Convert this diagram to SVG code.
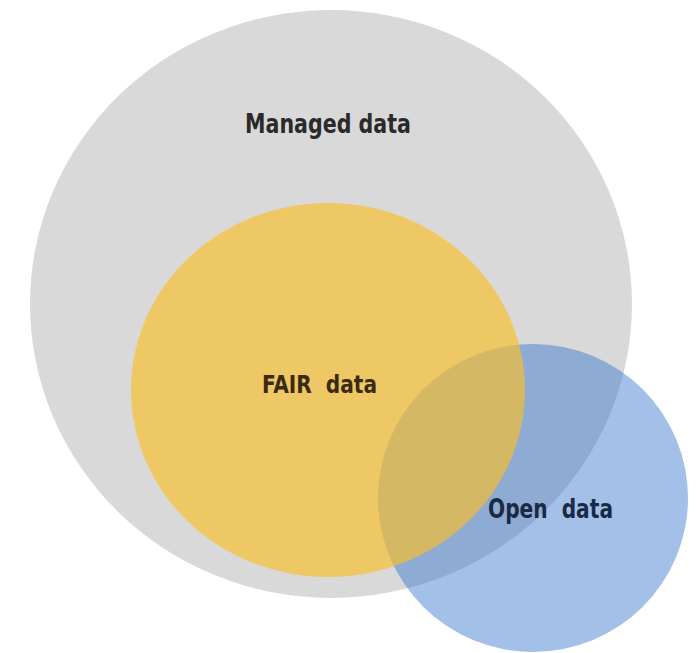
<svg xmlns="http://www.w3.org/2000/svg" width="698" height="653" viewBox="0 0 698 653">
  <style>
    .lbl { font-family: "DejaVu Sans Condensed", "DejaVu Sans", "Liberation Sans", sans-serif; font-weight: bold; white-space: pre; }
  </style>
  <rect width="698" height="653" fill="#ffffff"/>
  <g id="managed">
    <ellipse cx="331" cy="304" rx="301" ry="294" fill="#d9d9d9"/>
  </g>
  <g id="open-shape">
    <ellipse cx="533" cy="498" rx="155" ry="154" fill="rgb(51,115,204)" fill-opacity="0.45"/>
  </g>
  <g id="fair">
    <ellipse cx="328" cy="390" rx="197" ry="187" fill="rgb(251,191,40)" fill-opacity="0.65"/>
    <text class="lbl" x="262" y="393" font-size="25" fill="#3b2a12" textLength="115" lengthAdjust="spacingAndGlyphs">FAIR  data</text>
  </g>
  <g id="managed-label">
    <text class="lbl" x="245" y="133" font-size="27" fill="#2a2a2a" textLength="166" lengthAdjust="spacingAndGlyphs">Managed data</text>
  </g>
  <g id="open">
    <text class="lbl" x="488" y="518" font-size="27" fill="#1a2a45" textLength="125" lengthAdjust="spacingAndGlyphs">Open  data</text>
  </g>
  <g id="connectors"/>
</svg>
